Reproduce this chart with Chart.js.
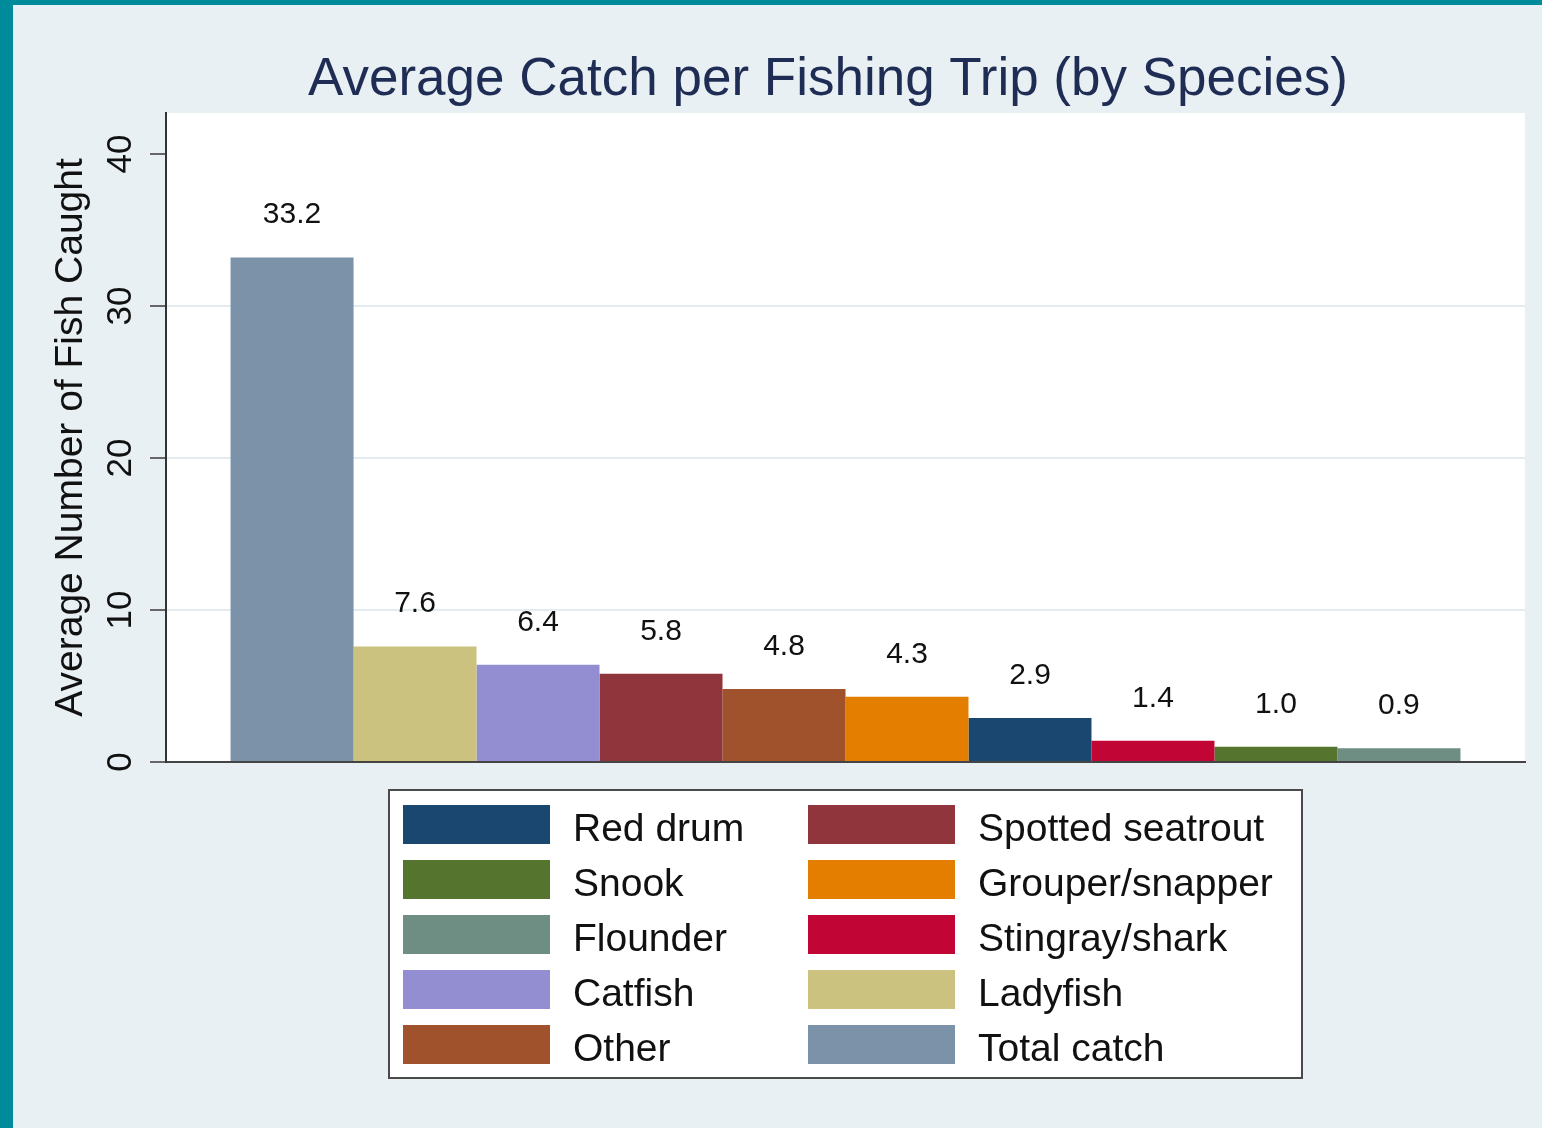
<!DOCTYPE html>
<html>
<head>
<meta charset="utf-8">
<title>Average Catch per Fishing Trip</title>
<script src="https://cdn.jsdelivr.net/npm/chart.js@4.4.1/dist/chart.umd.min.js"></script>
<style>
  html, body { margin: 0; padding: 0; background: #008b9b; }
  #frame { position: absolute; left: 13px; top: 5px; width: 1529px; height: 1123px; background: #e8f0f3; }
  canvas { display: block; }
</style>
</head>
<body>
<div id="frame"><canvas id="catchChart" width="1529" height="1123"></canvas></div>
<script>
// species in variable order (this is also the legend order, row by row)
const species = ['Red drum', 'Spotted seatrout', 'Snook', 'Grouper/snapper', 'Flounder',
                 'Stingray/shark', 'Catfish', 'Ladyfish', 'Other', 'Total catch'];
const avgCatch = [2.9, 5.8, 1.0, 4.3, 0.9, 1.4, 6.4, 7.6, 4.8, 33.2];
const barColors = ['#1a476f', '#90353b', '#55752f', '#e37e00', '#6e8e84',
                   '#c10534', '#938dd2', '#cac27e', '#a0522d', '#7b92a8'];
const yTicks = [0, 10, 20, 30, 40];

const FONT = '"Liberation Sans", Arial, Helvetica, sans-serif';

// bars are drawn largest first
const barOrder = species.map((s, i) => i).sort((a, b) => avgCatch[b] - avgCatch[a]);

const datasets = barOrder.map(i => ({
  label: species[i],
  data: [avgCatch[i]],
  backgroundColor: barColors[i],
  borderWidth: 0,
  barPercentage: 1,
  categoryPercentage: 0.905
}));

// white plot region on top of the grey-blue graph region
const plotBackground = {
  id: 'plotBackground',
  beforeDraw(chart) {
    const { ctx, chartArea: a } = chart;
    ctx.save();
    ctx.fillStyle = '#ffffff';
    ctx.fillRect(a.left, a.top, a.right - a.left, a.bottom - a.top);
    ctx.restore();
  }
};

// title, rotated axis text, value labels and the boxed legend
const decorations = {
  id: 'decorations',
  afterDraw(chart) {
    const { ctx, scales } = chart;
    const y = scales.y;
    ctx.save();

    // title
    ctx.fillStyle = '#1f2d55';
    ctx.font = '53px ' + FONT;
    ctx.textAlign = 'center';
    ctx.textBaseline = 'alphabetic';
    ctx.fillText('Average Catch per Fishing Trip (by Species)', 815, 90);

    // y axis title
    ctx.fillStyle = '#111111';
    ctx.font = '39px ' + FONT;
    ctx.save();
    ctx.translate(69, (chart.chartArea.top + chart.chartArea.bottom) / 2);
    ctx.rotate(-Math.PI / 2);
    ctx.fillText('Average Number of Fish Caught', 0, 0);
    ctx.restore();

    // y tick labels, reading bottom to top
    ctx.font = '35px ' + FONT;
    yTicks.forEach(v => {
      ctx.save();
      ctx.translate(118, y.getPixelForValue(v));
      ctx.rotate(-Math.PI / 2);
      ctx.fillText(String(v), 0, 0);
      ctx.restore();
    });

    // value above each bar
    ctx.font = '30px ' + FONT;
    chart.data.datasets.forEach((ds, di) => {
      const bar = chart.getDatasetMeta(di).data[0];
      ctx.fillText(ds.data[0].toFixed(1), bar.x, bar.y - 34);
    });

    // legend
    const box = { x: 376, y: 785, w: 913, h: 288 };
    ctx.fillStyle = '#ffffff';
    ctx.fillRect(box.x, box.y, box.w, box.h);
    ctx.strokeStyle = '#4a4a4a';
    ctx.lineWidth = 2;
    ctx.strokeRect(box.x, box.y, box.w, box.h);

    ctx.font = '39px ' + FONT;
    ctx.textAlign = 'left';
    species.forEach((name, i) => {
      const col = i % 2;
      const row = Math.floor(i / 2);
      const sx = col === 0 ? 390 : 795;
      const sy = 800 + row * 55;
      ctx.fillStyle = barColors[i];
      ctx.fillRect(sx, sy, 147, 39);
      ctx.fillStyle = '#111111';
      ctx.fillText(name, sx + 170, sy + 36);
    });

    ctx.restore();
  }
};

new Chart(document.getElementById('catchChart'), {
  type: 'bar',
  data: { labels: [''], datasets: datasets },
  plugins: [plotBackground, decorations],
  options: {
    responsive: false,
    animation: false,
    layout: { padding: { top: 108, right: 17, left: 0, bottom: 0 } },
    plugins: {
      legend: { display: false },
      title: { display: false },
      tooltip: { enabled: false }
    },
    scales: {
      x: {
        afterFit: s => { s.height = 366; },
        ticks: { display: false },
        grid: { display: false },
        border: { color: '#444444', width: 2 }
      },
      y: {
        min: 0,
        max: 42.7,
        afterFit: s => { s.width = 153; },
        afterBuildTicks: s => { s.ticks = yTicks.map(v => ({ value: v })); },
        ticks: { display: false },
        grid: {
          color: c => (c.tick && (c.tick.value === 0 || c.tick.value === 40)) ? 'rgba(0,0,0,0)' : '#e4ecef',
          lineWidth: 2,
          tickLength: 16,
          tickColor: '#666666',
          tickWidth: 2
        },
        border: { color: '#333333', width: 2 }
      }
    }
  }
});
</script>
</body>
</html>
